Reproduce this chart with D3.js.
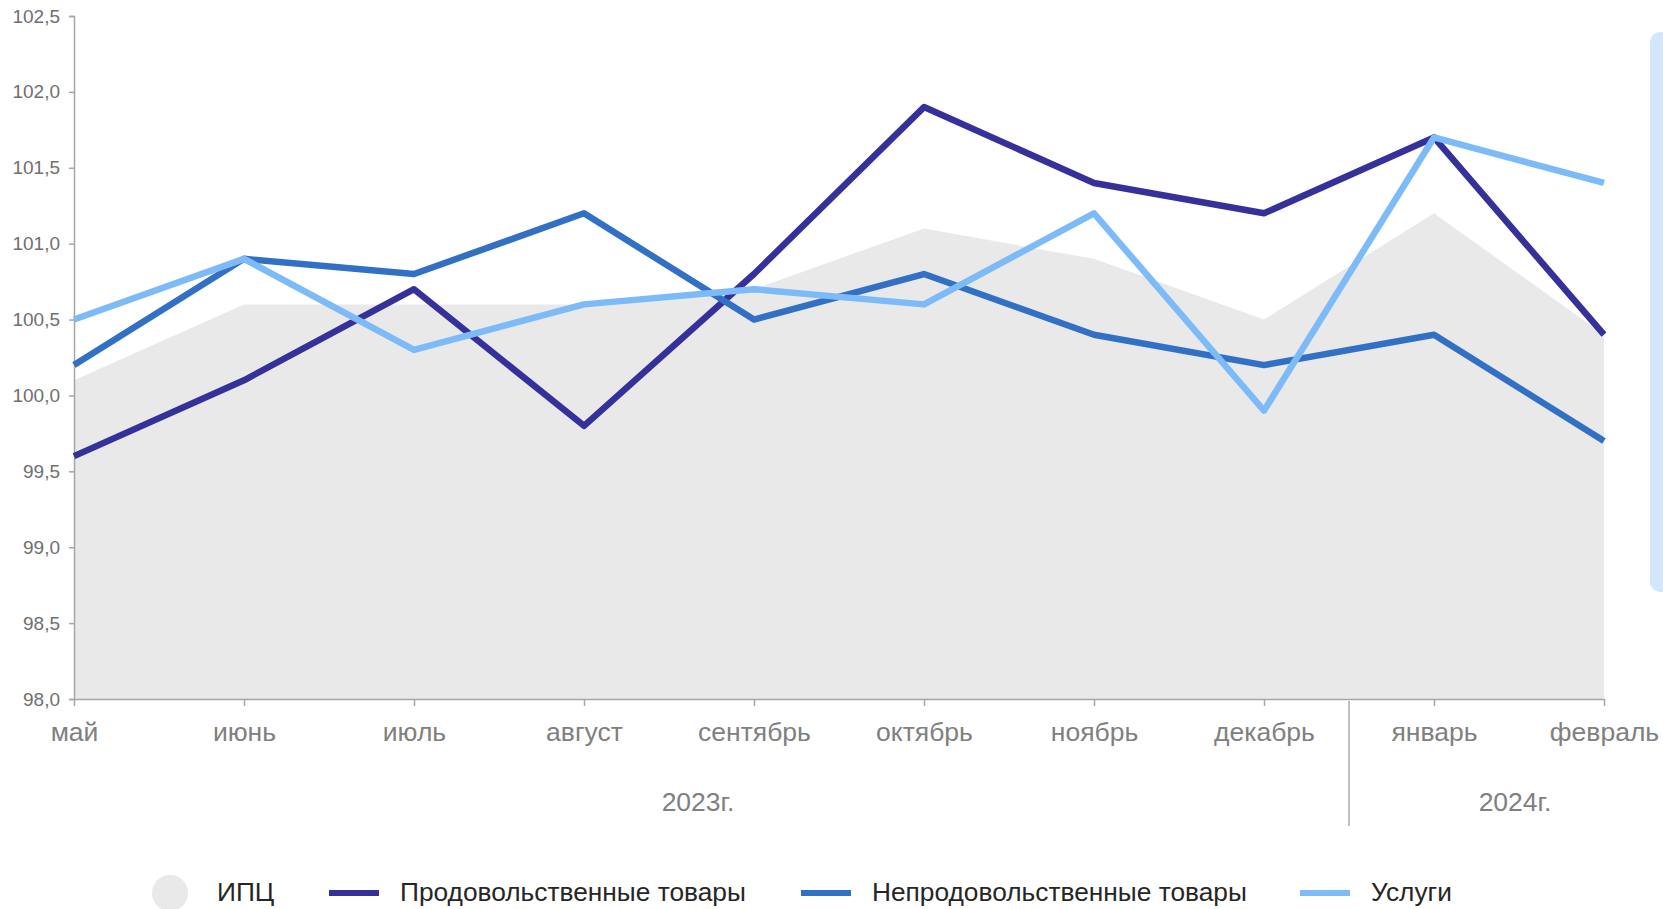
<!DOCTYPE html>
<html>
<head>
<meta charset="utf-8">
<script src="https://cdn.jsdelivr.net/npm/d3@7"></script>
<style>
  body { margin: 0; background: #fff; }
  svg { display: block; font-family: "Liberation Sans", Arial, sans-serif; }
</style>
</head>
<body>
<svg id="chart" width="1663" height="909"></svg>
<script>
const months = ['май', 'июнь', 'июль', 'август', 'сентябрь', 'октябрь', 'ноябрь', 'декабрь', 'январь', 'февраль'];
const cpi = [100.1, 100.6, 100.6, 100.6, 100.7, 101.1, 100.9, 100.5, 101.2, 100.4];
const food = [99.6, 100.1, 100.7, 99.8, 100.8, 101.9, 101.4, 101.2, 101.7, 100.4];
const nonFood = [100.2, 100.9, 100.8, 101.2, 100.5, 100.8, 100.4, 100.2, 100.4, 99.7];
const services = [100.5, 100.9, 100.3, 100.6, 100.7, 100.6, 101.2, 99.9, 101.7, 101.4];
const yTicks = [98.0, 98.5, 99.0, 99.5, 100.0, 100.5, 101.0, 101.5, 102.0, 102.5];
const years = ['2023г.', '2024г.'];

const svg = d3.select('#chart');
const plotLeft = 74, plotRight = 1604, plotTop = 16, plotBottom = 699;

const x = d3.scalePoint().domain(months).range([plotLeft, plotRight]);
const y = d3.scaleLinear().domain([98, 102.5]).range([plotBottom, plotTop]);

const fmt = v => d3.format('.1f')(v).replace('.', ',');

// ИПЦ area
const area = d3.area()
    .x((d, i) => x(months[i]))
    .y0(y(98))
    .y1(d => y(d));
svg.append('path')
    .datum(cpi)
    .attr('d', area)
    .attr('fill', '#e9e9e9');

// axes
const yAxis = svg.append('g')
    .attr('transform', `translate(${plotLeft},0)`)
    .call(d3.axisLeft(y).tickValues(yTicks).tickFormat(fmt).tickSize(5).tickPadding(9));
yAxis.select('.domain').attr('stroke', '#a6a6a6').attr('stroke-width', 1.5);
yAxis.selectAll('.tick line').attr('stroke', '#a6a6a6').attr('stroke-width', 1.5);
yAxis.selectAll('.tick text').attr('fill', '#6f6f6f').style('font-size', '19px');

const xAxis = svg.append('g')
    .attr('transform', `translate(0,${plotBottom})`)
    .call(d3.axisBottom(x).tickSize(7).tickPadding(16).tickSizeOuter(0));
xAxis.select('.domain').attr('stroke', '#a6a6a6').attr('stroke-width', 1.5);
xAxis.selectAll('.tick line').attr('stroke', '#a6a6a6').attr('stroke-width', 1.5);
xAxis.selectAll('.tick text').attr('fill', '#808080').style('font-size', '26.5px');

// year separator and labels
const step = x.step();
svg.append('line')
    .attr('x1', x('декабрь') + step / 2).attr('x2', x('декабрь') + step / 2)
    .attr('y1', plotBottom + 2).attr('y2', 826)
    .attr('stroke', '#bfbfbf').attr('stroke-width', 2);

svg.selectAll('.year')
    .data(years)
    .join('text')
    .attr('class', 'year')
    .attr('x', (d, i) => i === 0 ? 698 : 1515)
    .attr('y', 811)
    .attr('text-anchor', 'middle')
    .attr('fill', '#808080')
    .style('font-size', '26.5px')
    .text(d => d);

// lines
const series = [
    { name: 'Продовольственные товары', values: food, color: '#35309a' },
    { name: 'Непродовольственные товары', values: nonFood, color: '#3170c4' },
    { name: 'Услуги', values: services, color: '#7dbaf8' }
];
const line = d3.line()
    .x((d, i) => x(months[i]))
    .y(d => y(d));

svg.selectAll('.series')
    .data(series)
    .join('path')
    .attr('class', 'series')
    .attr('d', d => line(d.values))
    .attr('fill', 'none')
    .attr('stroke', d => d.color)
    .attr('stroke-width', 6.5)
    .attr('stroke-linejoin', 'round');

// right side panel
svg.append('rect')
    .attr('x', 1650).attr('y', 32)
    .attr('width', 40).attr('height', 560)
    .attr('rx', 10)
    .attr('fill', '#d2e7fd');

// legend
const legendY = 893;
svg.append('circle')
    .attr('cx', 170).attr('cy', legendY)
    .attr('r', 18)
    .attr('fill', '#e9e9e9');
svg.append('text')
    .attr('x', 217).attr('y', legendY + 8)
    .attr('fill', '#262626')
    .style('font-size', '26.3px')
    .text('ИПЦ');

const legendX = [329, 801, 1300];
series.forEach((s, i) => {
    svg.append('line')
        .attr('x1', legendX[i]).attr('x2', legendX[i] + 50)
        .attr('y1', legendY).attr('y2', legendY)
        .attr('stroke', s.color).attr('stroke-width', 6);
    svg.append('text')
        .attr('x', legendX[i] + 71).attr('y', legendY + 8)
        .attr('fill', '#262626')
        .style('font-size', '26.3px')
        .text(s.name);
});
</script>
</body>
</html>
